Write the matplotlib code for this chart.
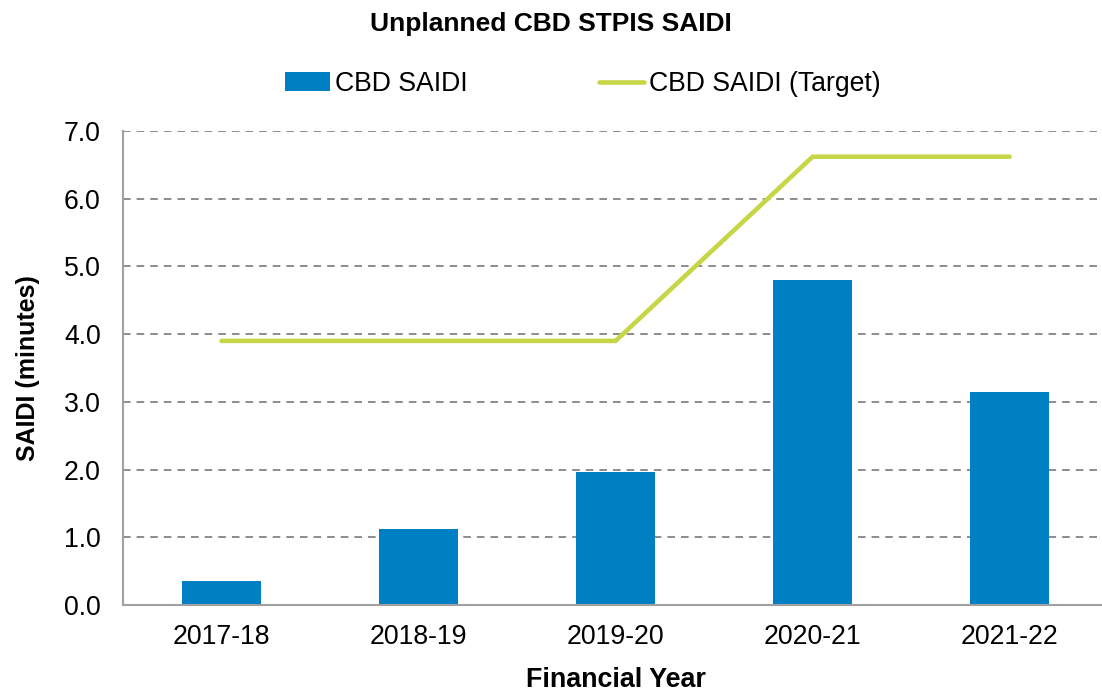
import numpy as np
import matplotlib
matplotlib.use("Agg")
import matplotlib.pyplot as plt

plt.rcParams['font.family'] = ['Liberation Sans', 'DejaVu Sans']

# data
years = ["2017-18", "2018-19", "2019-20", "2020-21", "2021-22"]
saidi = [0.35, 1.12, 1.97, 4.80, 3.15]
saidi_target = [3.90, 3.90, 3.90, 6.62, 6.62]

bar_color = "#0080C4"
line_color = "#C6D646"
grid_color = "#8C8C8C"

fig = plt.figure(figsize=(11.02, 6.93), dpi=100)
ax = fig.add_axes([0.1116, 0.127, 0.894, 0.684])

x = np.arange(len(years))
bars = ax.bar(x, saidi, width=0.4, color=bar_color, label="CBD SAIDI", zorder=2)
line, = ax.plot(x, saidi_target, color=line_color, lw=3.3, solid_capstyle="round",
                label="CBD SAIDI (Target)", zorder=3)

ax.set_xlim(-0.5, 4.5)
ax.set_ylim(0, 7)
ax.set_yticks(np.arange(0, 7.1, 1.0))
ax.set_yticklabels([f"{v:.1f}" for v in np.arange(0, 7.1, 1.0)])
ax.set_xticks(x)
ax.set_xticklabels(years)
ax.tick_params(axis="both", length=0, labelsize=19.2)
ax.tick_params(axis="y", pad=16)
ax.tick_params(axis="x", pad=14)

ax.yaxis.grid(True, color=grid_color, ls=(0, (3.9, 3.1)), lw=1.4, zorder=0)
ax.set_axisbelow(True)
for s in ["top", "right"]:
    ax.spines[s].set_visible(False)
for s in ["left", "bottom"]:
    ax.spines[s].set_color("#A0A0A0")
    ax.spines[s].set_linewidth(1.5)

ax.set_xlabel("Financial Year", fontsize=19.4, fontweight="bold", labelpad=12)
ax.set_ylabel("SAIDI (minutes)", fontsize=18, fontweight="bold", labelpad=17)

fig.suptitle("Unplanned CBD STPIS SAIDI", fontsize=19, fontweight="bold", y=0.982)
fig.legend([bars, line], ["CBD SAIDI", "CBD SAIDI (Target)"],
           loc="center", bbox_to_anchor=(0.529, 0.879), ncol=2, frameon=False,
           fontsize=19.2, handlelength=1.7, handletextpad=0.2, columnspacing=4.9)

fig.savefig("out.png", dpi=100)
